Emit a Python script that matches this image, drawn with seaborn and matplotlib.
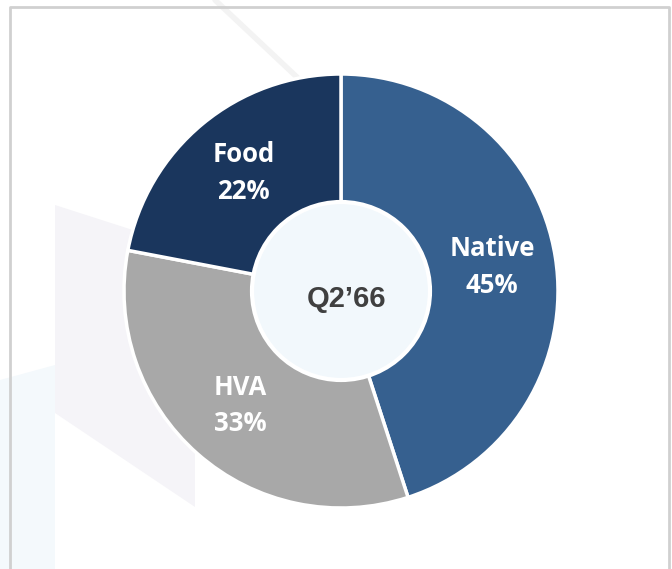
import matplotlib.pyplot as plt
import seaborn as sns
from matplotlib.patches import Circle, Polygon

# data
segments = ["Native", "HVA", "Food"]
shares = [45, 33, 22]
colors = ["#36608f", "#a8a8a8", "#1a365d"]
center_label = "Q2\u201966"

W, H = 672, 569


def main() -> None:
    sns.set_theme(style="white")
    plt.rcParams["font.family"] = ["Open Sans", "DejaVu Sans"]

    fig = plt.figure(figsize=(W / 100, H / 100), dpi=100)
    ax = fig.add_axes([0, 0, 1, 1])

    # faint background watermark
    ax.add_patch(Polygon([(0, H - 569), (0, H - 380), (55, H - 365), (55, H - 569)],
                         closed=True, color="#f4f9fc", lw=0, zorder=0))
    ax.add_patch(Polygon([(55, H - 205), (195, H - 250), (195, H - 507), (55, H - 413)],
                         closed=True, color="#f5f4f8", lw=0, zorder=0))
    ax.plot([215, 300], [H, H - 80], color="#f3f3f3", lw=4, zorder=0)

    # frame (top, left, right)
    ax.plot([10, 10, 669, 669], [0, H - 7, H - 7, 0], color="#d0d0d0", lw=2, zorder=1)

    cx, cy, r = 341, H - 291, 217
    ax.pie(
        shares,
        colors=colors,
        startangle=90,
        counterclock=False,
        center=(cx, cy),
        radius=r,
        wedgeprops=dict(edgecolor="white", linewidth=2.5),
        labels=[f"{s}\n{v}%" for s, v in zip(segments, shares)],
        labeldistance=0.705,
        textprops=dict(color="white", fontsize=18.5, fontweight="bold",
                       ha="center", va="center", linespacing=1.45),
        frame=True,
    )
    ax.set_xlim(0, W)
    ax.set_ylim(0, H)
    ax.set_aspect("equal")
    ax.axis("off")

    ax.add_patch(Circle((cx, cy), 89, facecolor="#f2f8fc", edgecolor="white",
                        lw=3, zorder=5))
    ax.text(cx + 5, cy - 8, center_label, ha="center", va="center", fontsize=21,
            fontweight="bold", color="#404040",
            family=["Liberation Sans", "DejaVu Sans"], zorder=6)

    fig.savefig("out.png", dpi=100)
    plt.close(fig)


if __name__ == "__main__":
    main()
